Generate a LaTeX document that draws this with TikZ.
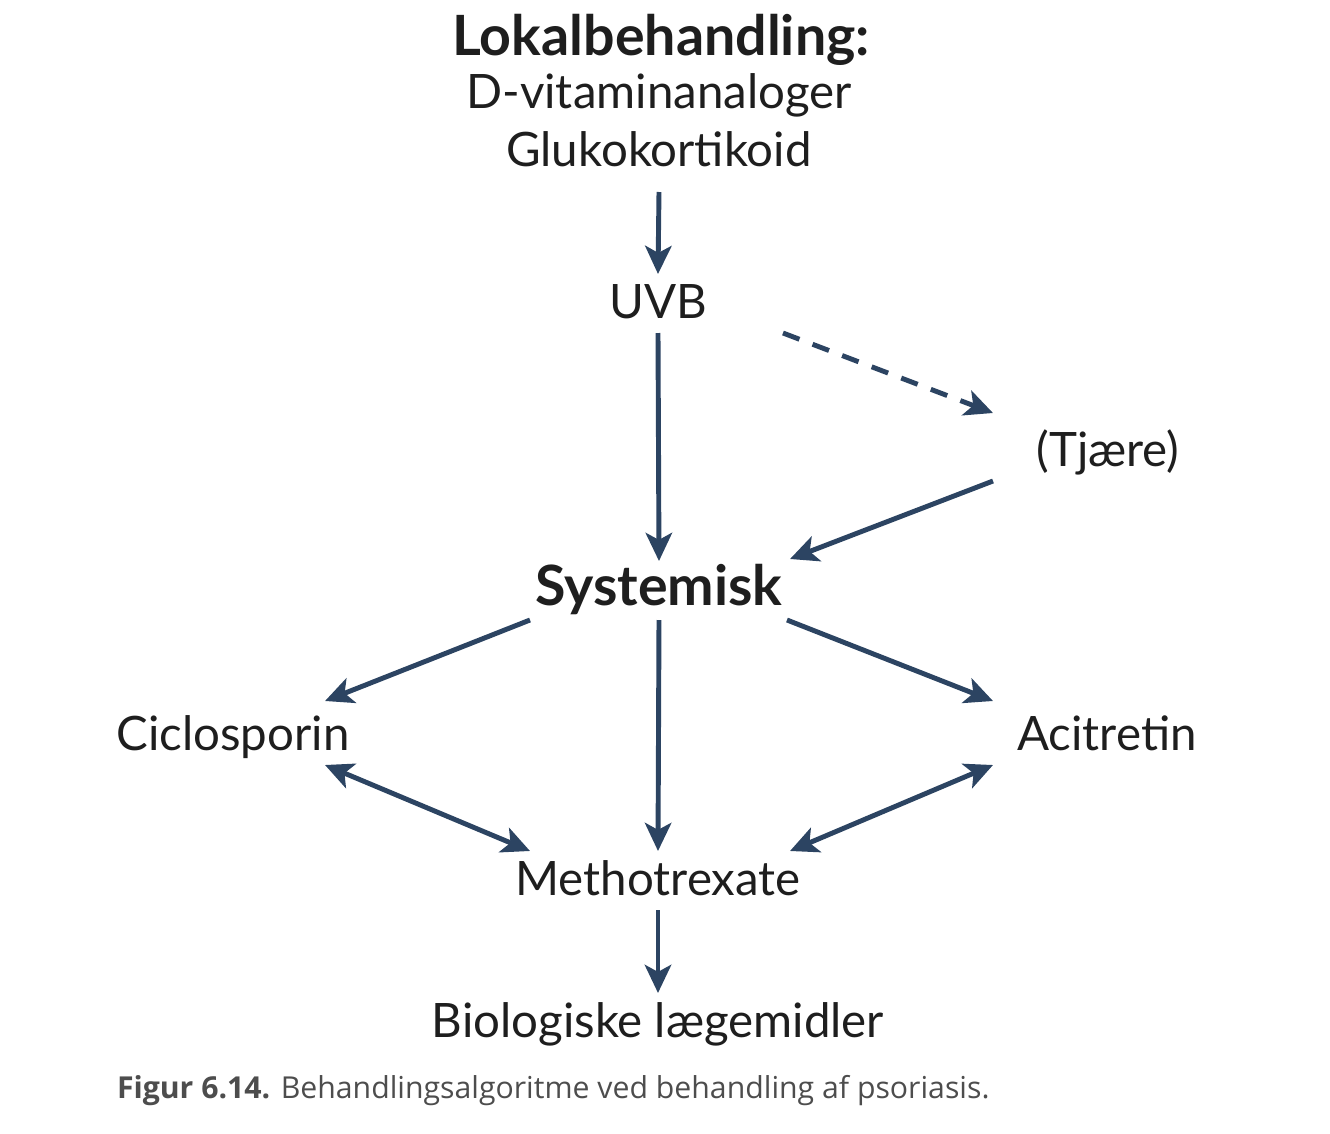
\documentclass[tikz,border=0pt]{standalone}
\usepackage{fontspec}
\setmainfont{Lato}
\newfontfamily\capfont{Open Sans}
\usetikzlibrary{arrows.meta}
\definecolor{arrblue}{HTML}{2C4462}
\definecolor{txtblack}{HTML}{1E1E1E}
\definecolor{capgray}{HTML}{4D4D4D}

\begin{document}
\begin{tikzpicture}[every node/.style={font=\fontsize{13.5}{16}\selectfont,text=txtblack,inner sep=0pt,outer sep=0.1cm,text height=0.34cm,text depth=0.05cm,anchor=base},
    headnode/.style={font=\fontsize{15.8}{18}\selectfont\bfseries},
    arr/.style={draw=arrblue,line width=1.4pt,-{Stealth[length=8pt,width=7.5pt,inset=2pt]}},
    dbl/.style={arr,{Stealth[length=8pt,width=7.5pt,inset=2pt]}-{Stealth[length=8pt,width=7.5pt,inset=2pt]}},
    capstyle/.style={font=\capfont\fontsize{8.6}{10}\selectfont,text=capgray,anchor=base west,outer sep=0pt}]
    \useasboundingbox (0,0) rectangle (13.3,-11.34);
    % top block
    \node[headnode] (lokal) at (6.61,-0.55) {Lokalbehandling:};
    \node (dvit) at (6.59,-1.08) {D-vitaminanaloger};
    \node (gluko) at (6.59,-1.66) {Glukokortikoid};
    \node (uvb) at (6.58,-3.18) {UVB};
    \node (tjaere) at (11.08,-4.66) {(Tjære)};
    \node[headnode] (sys) at (6.59,-6.05) {Systemisk};
    \node (cic) at (2.33,-7.50) {Ciclosporin};
    \node (aci) at (11.07,-7.50) {Acitretin};
    \node (mtx) at (6.58,-8.95) {Methotrexate};
    \node (bio) at (6.58,-10.37) {Biologiske lægemidler};
    \node[capstyle] (cap) at (1.17,-10.98) {\textbf{Figur 6.14.} Behandlingsalgoritme ved behandling af psoriasis.};
    % arrows
    \draw[arr] ([yshift=-0.11cm]gluko.south) -- (uvb.north);
    \draw[arr] (uvb.south) -- (sys.north);
    \draw[arr,dash pattern=on 5pt off 4pt] ([xshift=1.25cm]uvb.south) -- ([xshift=-1.15cm,yshift=0.09cm]tjaere.north);
    \draw[arr] ([xshift=-1.15cm]tjaere.south) -- ([xshift=1.31cm,yshift=0.02cm]sys.north);
    \draw[arr] ([xshift=-1.29cm]sys.south) -- ([xshift=0.92cm,yshift=0.05cm]cic.north);
    \draw[arr] (sys.south) -- (mtx.north);
    \draw[arr] ([xshift=1.28cm]sys.south) -- ([xshift=-1.14cm,yshift=0.05cm]aci.north);
    \draw[dbl] ([xshift=0.92cm]cic.south) -- ([xshift=-1.28cm]mtx.north);
    \draw[dbl] ([xshift=-1.14cm]aci.south) -- ([xshift=1.32cm]mtx.north);
    \draw[arr] (mtx.south) -- (bio.north);
\end{tikzpicture}
\end{document}
